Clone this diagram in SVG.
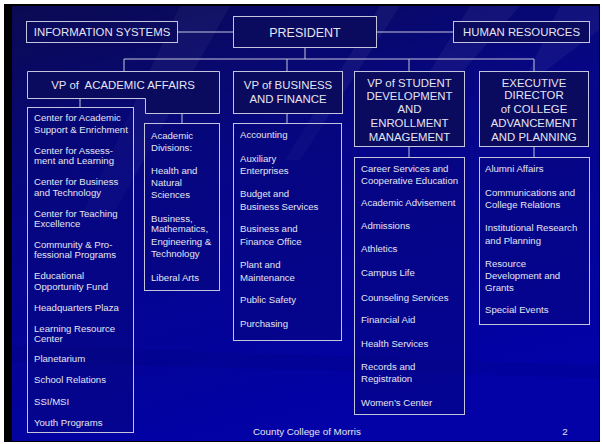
<svg xmlns="http://www.w3.org/2000/svg" width="602" height="444" viewBox="0 0 602 444">
<defs>
<linearGradient id="bg" x1="0" y1="0" x2="0.35" y2="1">
<stop offset="0" stop-color="#0a0a52"/>
<stop offset="0.45" stop-color="#060688"/>
<stop offset="1" stop-color="#0202a6"/>
</linearGradient>
<style>
.box{fill:#07077a;fill-opacity:0.45;stroke:#c4c4dc;stroke-width:1}
.top{fill:#0a0a5e;stroke:#c4c4dc;stroke-width:1}
.ln{stroke:#c4c4dc;stroke-width:1;fill:none}
text{font-family:"Liberation Sans",Arial,sans-serif;fill:#e4e4f2}
.h{font-size:11.4px;text-anchor:middle}
.p{font-size:12.5px;text-anchor:middle}
.i{font-size:9.6px}
.f{font-size:9.8px}
</style>
</defs>
<rect x="0" y="0" width="602" height="444" fill="#ffffff"/>
<rect x="4" y="4" width="596" height="438" fill="#000000"/>
<rect x="12" y="6" width="587" height="435" fill="url(#bg)"/>
<g opacity="0.045" fill="#ffffff">
<polygon points="180,6 230,6 110,220 80,220"/>
<polygon points="380,6 400,6 300,160 285,160"/>
<polygon points="470,6 520,6 420,120 400,120"/>
<polygon points="560,6 599,6 599,30 520,90"/>
</g>
<g opacity="0.08" fill="#000030">
<polygon points="12,345 599,365 599,378 12,362"/>
</g>
<g id="connectors" class="ln">
<line x1="178" y1="32" x2="233" y2="32"/>
<line x1="377" y1="32" x2="453" y2="32"/>
<line x1="305" y1="48" x2="305" y2="59"/>
<line x1="124" y1="59" x2="534" y2="59"/>
<line x1="124" y1="59" x2="124" y2="71"/>
<line x1="287" y1="59" x2="287" y2="71"/>
<line x1="409" y1="59" x2="409" y2="71"/>
<line x1="534" y1="59" x2="534" y2="71"/>
<line x1="80" y1="98" x2="80" y2="107"/>
<line x1="182" y1="113" x2="182" y2="123"/>
<line x1="287" y1="113" x2="287" y2="123"/>
<line x1="409" y1="147" x2="409" y2="157"/>
<line x1="534" y1="147" x2="534" y2="157"/>
</g>
<g id="info-systems">
<rect class="top" x="26.5" y="21.5" width="151" height="21"/>
<text class="h" x="102" y="36">INFORMATION SYSTEMS</text>
</g>
<g id="president">
<rect class="top" x="233.5" y="16.5" width="143" height="31"/>
<text class="p" x="305" y="36.5">PRESIDENT</text>
</g>
<g id="human-resources">
<rect class="top" x="453.5" y="21.5" width="136" height="21"/>
<text class="h" x="521.5" y="36">HUMAN RESOURCES</text>
</g>
<g id="vp-academic">
<path class="top" d="M27.5,71.5 H219.5 V113.5 H145.5 V98.5 H27.5 Z"/>
<text class="h" x="123" y="89" xml:space="preserve">VP of  ACADEMIC AFFAIRS</text>
</g>
<g id="academic-centers">
<rect class="box" x="27.5" y="107.5" width="106" height="325"/>
<text class="i" x="34"><tspan x="34" y="120.5">Center for Academic</tspan><tspan x="34" y="132.5">Support &amp; Enrichment</tspan><tspan x="34" y="153.5">Center for Assess-</tspan><tspan x="34" y="164">ment and Learning</tspan><tspan x="34" y="184.5">Center for Business</tspan><tspan x="34" y="195.5">and Technology</tspan><tspan x="34" y="216.5">Center for Teaching</tspan><tspan x="34" y="226.5">Excellence</tspan><tspan x="34" y="247.5">Community &amp; Pro-</tspan><tspan x="34" y="257.5">fessional Programs</tspan><tspan x="34" y="278.5">Educational</tspan><tspan x="34" y="289.5">Opportunity Fund</tspan><tspan x="34" y="310.5">Headquarters Plaza</tspan><tspan x="34" y="331.5">Learning Resource</tspan><tspan x="34" y="341.5">Center</tspan><tspan x="34" y="361.5">Planetarium</tspan><tspan x="34" y="382.5">School Relations</tspan><tspan x="34" y="404.5">SSI/MSI</tspan><tspan x="34" y="425.5">Youth Programs</tspan></text>
</g>
<g id="academic-divisions">
<rect class="box" x="144.5" y="123.5" width="75" height="167"/>
<text class="i"><tspan x="151" y="138.5">Academic</tspan><tspan x="151" y="150.5">Divisions:</tspan><tspan x="151" y="173.5">Health and</tspan><tspan x="151" y="185.5">Natural</tspan><tspan x="151" y="197.5">Sciences</tspan><tspan x="151" y="221.5">Business,</tspan><tspan x="151" y="232">Mathematics,</tspan><tspan x="151" y="244.5">Engineering &amp;</tspan><tspan x="151" y="256.5">Technology</tspan><tspan x="151" y="280.5">Liberal Arts</tspan></text>
</g>
<g id="vp-business">
<rect class="top" x="233.5" y="71.5" width="109" height="42"/>
<text class="h"><tspan x="288" y="89">VP of BUSINESS</tspan><tspan x="288" y="103">AND FINANCE</tspan></text>
</g>
<g id="business-units">
<rect class="box" x="233.5" y="123.5" width="108" height="217"/>
<text class="i"><tspan x="240" y="137.5">Accounting</tspan><tspan x="240" y="161.5">Auxiliary</tspan><tspan x="240" y="173.5">Enterprises</tspan><tspan x="240" y="196.5">Budget and</tspan><tspan x="240" y="209.5">Business Services</tspan><tspan x="240" y="231.5">Business and</tspan><tspan x="240" y="244.5">Finance Office</tspan><tspan x="240" y="267.5">Plant and</tspan><tspan x="240" y="280.5">Maintenance</tspan><tspan x="240" y="302.5">Public Safety</tspan><tspan x="240" y="326.5">Purchasing</tspan></text>
</g>
<g id="vp-student">
<rect class="top" x="354.5" y="71.5" width="110" height="75"/>
<text class="h"><tspan x="409.5" y="87">VP of STUDENT</tspan><tspan x="409.5" y="100">DEVELOPMENT</tspan><tspan x="409.5" y="113">AND</tspan><tspan x="409.5" y="127">ENROLLMENT</tspan><tspan x="409.5" y="141">MANAGEMENT</tspan></text>
</g>
<g id="student-units">
<rect class="box" x="354.5" y="157.5" width="110" height="257"/>
<text class="i"><tspan x="361" y="171.5">Career Services and</tspan><tspan x="361" y="183.5">Cooperative Education</tspan><tspan x="361" y="205.5">Academic Advisement</tspan><tspan x="361" y="228.5">Admissions</tspan><tspan x="361" y="251.5">Athletics</tspan><tspan x="361" y="275.5">Campus Life</tspan><tspan x="361" y="300.5">Counseling Services</tspan><tspan x="361" y="322.5">Financial Aid</tspan><tspan x="361" y="346.5">Health Services</tspan><tspan x="361" y="369.5">Records and</tspan><tspan x="361" y="381.5">Registration</tspan><tspan x="361" y="405.5">Women’s Center</tspan></text>
</g>
<g id="exec-director">
<rect class="top" x="479.5" y="71.5" width="109" height="75"/>
<text class="h"><tspan x="534" y="87">EXECUTIVE</tspan><tspan x="534" y="99">DIRECTOR</tspan><tspan x="534" y="113">of COLLEGE</tspan><tspan x="534" y="127">ADVANCEMENT</tspan><tspan x="534" y="141">AND PLANNING</tspan></text>
</g>
<g id="advancement-units">
<rect class="box" x="479.5" y="157.5" width="110" height="167"/>
<text class="i"><tspan x="485" y="171.5">Alumni Affairs</tspan><tspan x="485" y="195.5">Communications and</tspan><tspan x="485" y="207.5">College Relations</tspan><tspan x="485" y="230.5">Institutional Research</tspan><tspan x="485" y="243.5">and Planning</tspan><tspan x="485" y="266.5">Resource</tspan><tspan x="485" y="278.5">Development and</tspan><tspan x="485" y="290.5">Grants</tspan><tspan x="485" y="312.5">Special Events</tspan></text>
</g>
<text class="f" x="253" y="434.5">County College of Morris</text>
<text class="f" x="565" y="434.5" text-anchor="middle">2</text>
</svg>
